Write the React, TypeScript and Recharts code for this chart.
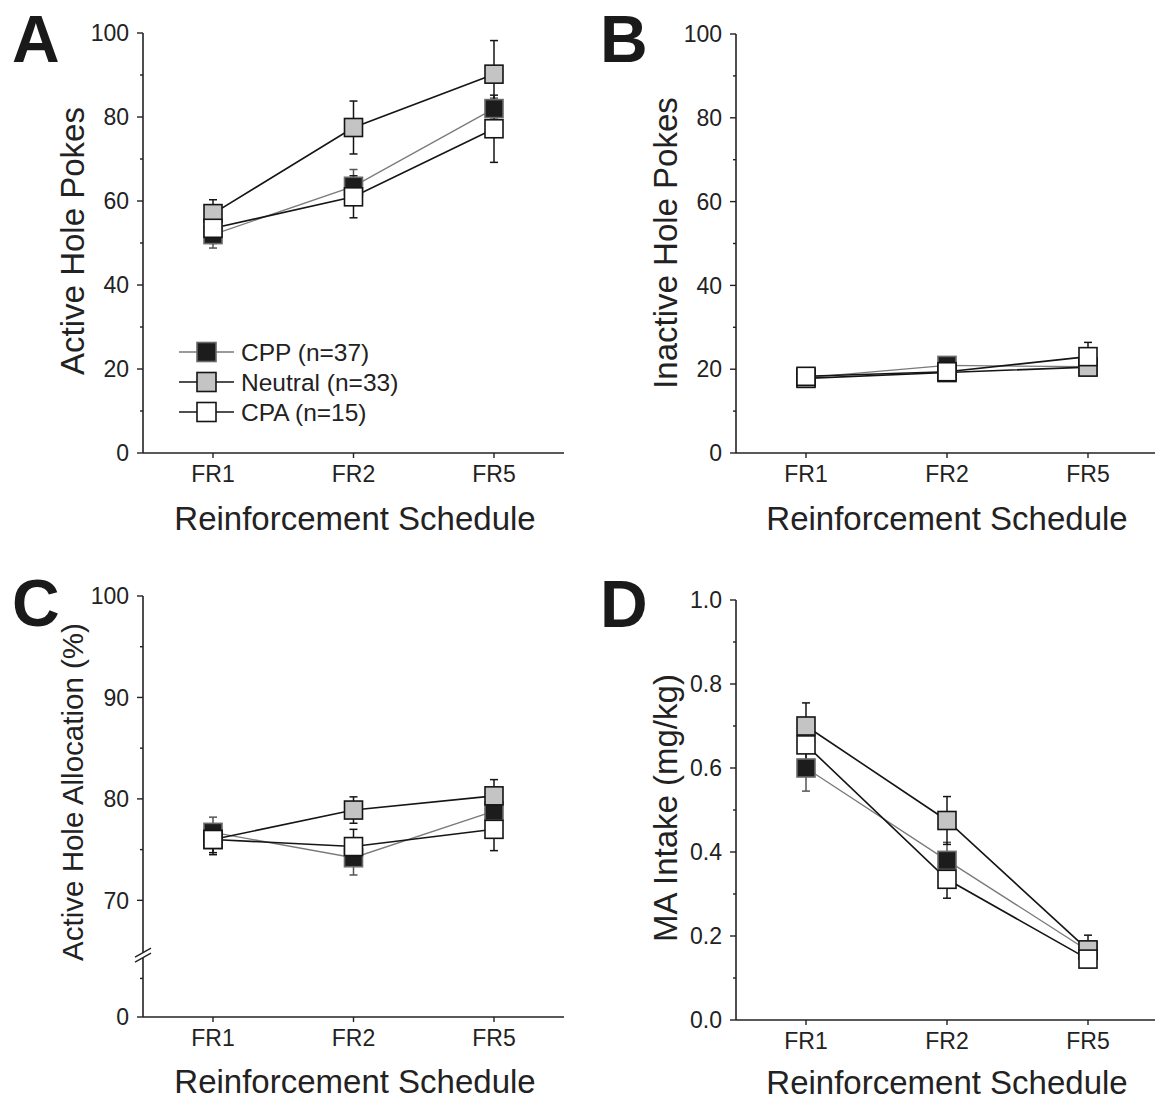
import React from 'react';
import { LineChart, Line, XAxis, YAxis, ErrorBar, Label } from 'recharts';

// ---------- data ----------
const categories = ['FR1', 'FR2', 'FR5'];
const groupNames = ['CPP (n=37)', 'Neutral (n=33)', 'CPA (n=15)'];

// Panel A: Active hole pokes
const activeCPP = [52, 63.5, 82];
const activeCPPErr = [3.2, 4, 2.5];
const activeNeutral = [57, 77.5, 90.2];
const activeNeutralErr = [3.3, 6.3, 8];
const activeCPA = [53.5, 61, 77.2];
const activeCPAErr = [3.6, 5, 8];

// Panel B: Inactive hole pokes
const inactiveCPP = [18.0, 20.9, 20.6];
const inactiveCPPErr = [1.0, 1.2, 1.0];
const inactiveNeutral = [17.8, 19.2, 20.5];
const inactiveNeutralErr = [1.0, 1.0, 1.0];
const inactiveCPA = [18.3, 19.4, 23.0];
const inactiveCPAErr = [1.1, 1.0, 3.4];

// Panel C: Active hole allocation (%)
const allocCPP = [76.7, 74.2, 78.8];
const allocCPPErr = [1.5, 1.7, 1.2];
const allocNeutral = [76.0, 78.9, 80.3];
const allocNeutralErr = [1.5, 1.3, 1.6];
const allocCPA = [76.0, 75.3, 77.0];
const allocCPAErr = [1.3, 1.7, 2.1];

// Panel D: MA intake (mg/kg)
const intakeCPP = [0.6, 0.38, 0.165];
const intakeCPPErr = [0.055, 0.043, 0.02];
const intakeNeutral = [0.7, 0.475, 0.167];
const intakeNeutralErr = [0.055, 0.057, 0.035];
const intakeCPA = [0.655, 0.335, 0.145];
const intakeCPAErr = [0.05, 0.045, 0.02];

// tick values
const pokeTicks = [0, 10, 20, 30, 40, 50, 60, 70, 80, 90, 100];
const pokeLabels = ['0', '', '20', '', '40', '', '60', '', '80', '', '100'];
// panel C axis is broken: bottom "0" sits below a break under 70
const allocTicks = [58.5, 62.3, 64.6, 70, 75, 80, 85, 90, 95, 100];
const allocLabels = ['0', '', 'break', '70', '', '80', '', '90', '', '100'];
const intakeTicks = [0, 0.1, 0.2, 0.3, 0.4, 0.5, 0.6, 0.7, 0.8, 0.9, 1.0];
const intakeLabels = ['0.0', '', '0.2', '', '0.4', '', '0.6', '', '0.8', '', '1.0'];

// ---------- style ----------
const FONT = '"Liberation Sans", Arial, Helvetica, sans-serif';
const INK = '#222';
const TICK_SIZE = 6;
const TICK_MARGIN = 8;
const BOX = 18;
const TICK_FONT = 23;
const TITLE_FONT = 33;
const LEGEND_FONT = 24.5;

const buildRows = (
  cpp: number[], cppErr: number[],
  neu: number[], neuErr: number[],
  cpa: number[], cpaErr: number[]
) =>
  categories.map((name, i) => ({
    name,
    cpp: cpp[i], cppErr: cppErr[i],
    neutral: neu[i], neutralErr: neuErr[i],
    cpa: cpa[i], cpaErr: cpaErr[i],
  }));

const seriesStyle = {
  cpp: { fill: '#1c1c1c', stroke: '#6a6a6a', line: '#7a7a7a', lineWidth: 1.3, err: '#555' },
  neutral: { fill: '#c4c4c4', stroke: '#151515', line: '#151515', lineWidth: 1.6, err: '#151515' },
  cpa: { fill: '#ffffff', stroke: '#151515', line: '#151515', lineWidth: 1.6, err: '#151515' },
};

const makeSquare = (fill: string, stroke: string) => (p: any) => {
  if (p.cx == null || p.cy == null) return <g key={`e-${p.index}`} />;
  return (
    <rect
      key={`sq-${p.dataKey}-${p.index}`}
      x={p.cx - BOX / 2}
      y={p.cy - BOX / 2}
      width={BOX}
      height={BOX}
      fill={fill}
      stroke={stroke}
      strokeWidth={1.6}
    />
  );
};

const makeYTick = (ticks: number[], labels: string[]) => (props: any) => {
  const { x, y, payload } = props;
  const ax = x + TICK_SIZE + TICK_MARGIN;
  const idx = ticks.findIndex((t) => Math.abs(t - payload.value) < 1e-6);
  const lab = idx >= 0 ? labels[idx] : '';
  if (lab === 'break') {
    return (
      <g>
        <polygon
          points={`${ax - 8},${y + 7} ${ax + 8},${y - 2} ${ax + 8},${y - 7} ${ax - 8},${y + 2}`}
          fill="#fff"
        />
        <line x1={ax - 8} y1={y + 7} x2={ax + 8} y2={y - 2} stroke={INK} strokeWidth={1.4} />
        <line x1={ax - 8} y1={y + 2} x2={ax + 8} y2={y - 7} stroke={INK} strokeWidth={1.4} />
      </g>
    );
  }
  if (!lab) {
    return <line x1={ax - 3} y1={y} x2={ax} y2={y} stroke={INK} strokeWidth={1.4} />;
  }
  return (
    <g>
      <line x1={ax - TICK_SIZE} y1={y} x2={ax} y2={y} stroke={INK} strokeWidth={1.4} />
      <text
        x={x}
        y={y}
        dy="0.36em"
        textAnchor="end"
        fontSize={TICK_FONT}
        fill={INK}
        fontFamily={FONT}
      >
        {lab}
      </text>
    </g>
  );
};

type PanelProps = {
  left: number;
  top: number;
  width: number;
  height: number;
  margin: { top: number; right: number; bottom: number; left: number };
  data: any[];
  domain: [number, number];
  ticks: number[];
  labels: string[];
  yTitle: string;
  yTitleFont: number;
  yTitlePos: [number, number];
  xTitlePos: [number, number];
};

const Panel = (p: PanelProps) => (
  <div style={{ position: 'absolute', left: p.left, top: p.top }}>
    <LineChart width={p.width} height={p.height} data={p.data} margin={p.margin}>
      <XAxis
        dataKey="name"
        type="category"
        interval={0}
        padding={{ left: 70, right: 70 }}
        height={90}
        tickSize={5}
        tickMargin={8}
        tick={{ fontSize: TICK_FONT, fill: INK, fontFamily: FONT }}
        axisLine={{ stroke: INK, strokeWidth: 1.6 }}
        tickLine={{ stroke: INK, strokeWidth: 1.4 }}
      >
        <Label
          content={() => (
            <text
              x={p.xTitlePos[0]}
              y={p.xTitlePos[1]}
              textAnchor="middle"
              fontSize={TITLE_FONT}
              fill={INK}
              fontFamily={FONT}
            >
              Reinforcement Schedule
            </text>
          )}
        />
      </XAxis>
      <YAxis
        type="number"
        domain={p.domain}
        ticks={p.ticks}
        interval={0}
        allowDataOverflow
        width={143}
        tickSize={TICK_SIZE}
        tickMargin={TICK_MARGIN}
        tickLine={false}
        axisLine={{ stroke: INK, strokeWidth: 1.6 }}
        tick={makeYTick(p.ticks, p.labels)}
      >
        <Label
          content={() => (
            <text
              x={p.yTitlePos[0]}
              y={p.yTitlePos[1]}
              transform={`rotate(-90 ${p.yTitlePos[0]} ${p.yTitlePos[1]})`}
              textAnchor="middle"
              fontSize={p.yTitleFont}
              fill={INK}
              fontFamily={FONT}
            >
              {p.yTitle}
            </text>
          )}
        />
      </YAxis>

      {/* connecting lines underneath all markers */}
      <Line dataKey="cpp" stroke={seriesStyle.cpp.line} strokeWidth={seriesStyle.cpp.lineWidth} dot={false} activeDot={false} isAnimationActive={false} legendType="none" />
      <Line dataKey="neutral" stroke={seriesStyle.neutral.line} strokeWidth={seriesStyle.neutral.lineWidth} dot={false} activeDot={false} isAnimationActive={false} legendType="none" />
      <Line dataKey="cpa" stroke={seriesStyle.cpa.line} strokeWidth={seriesStyle.cpa.lineWidth} dot={false} activeDot={false} isAnimationActive={false} legendType="none" />

      {/* markers with SEM error bars */}
      <Line dataKey="cpp" stroke="none" dot={makeSquare(seriesStyle.cpp.fill, seriesStyle.cpp.stroke)} activeDot={false} isAnimationActive={false} legendType="none">
        <ErrorBar dataKey="cppErr" width={4} stroke={seriesStyle.cpp.err} strokeWidth={1.5} direction="y" />
      </Line>
      <Line dataKey="neutral" stroke="none" dot={makeSquare(seriesStyle.neutral.fill, seriesStyle.neutral.stroke)} activeDot={false} isAnimationActive={false} legendType="none">
        <ErrorBar dataKey="neutralErr" width={4} stroke={seriesStyle.neutral.err} strokeWidth={1.5} direction="y" />
      </Line>
      <Line dataKey="cpa" stroke="none" dot={makeSquare(seriesStyle.cpa.fill, seriesStyle.cpa.stroke)} activeDot={false} isAnimationActive={false} legendType="none">
        <ErrorBar dataKey="cpaErr" width={4} stroke={seriesStyle.cpa.err} strokeWidth={1.5} direction="y" />
      </Line>
    </LineChart>
  </div>
);

const legendRows = [
  { name: groupNames[0], s: seriesStyle.cpp },
  { name: groupNames[1], s: seriesStyle.neutral },
  { name: groupNames[2], s: seriesStyle.cpa },
];

const Overlay = () => (
  <svg
    width={1155}
    height={1102}
    style={{ position: 'absolute', left: 0, top: 0, pointerEvents: 'none' }}
  >
    {[
      ['A', 12, 62],
      ['B', 600, 62],
      ['C', 12, 626],
      ['D', 600, 627],
    ].map(([t, x, y]) => (
      <text key={t as string} x={x as number} y={y as number} fontSize={66} fontWeight="bold" fill="#1a1a1a" fontFamily={FONT}>
        {t}
      </text>
    ))}
    {legendRows.map((r, i) => {
      const cy = 352 + i * 30;
      return (
        <g key={r.name}>
          <line x1={179} y1={cy} x2={234} y2={cy} stroke={r.s.line} strokeWidth={r.s.lineWidth} />
          <rect x={197} y={cy - 9.5} width={19} height={19} fill={r.s.fill} stroke={r.s.stroke} strokeWidth={1.6} />
          <text x={241} y={cy} dy="0.36em" fontSize={LEGEND_FONT} fill={INK} fontFamily={FONT}>
            {r.name}
          </text>
        </g>
      );
    })}
  </svg>
);

export default function App() {
  const dataA = buildRows(activeCPP, activeCPPErr, activeNeutral, activeNeutralErr, activeCPA, activeCPAErr);
  const dataB = buildRows(inactiveCPP, inactiveCPPErr, inactiveNeutral, inactiveNeutralErr, inactiveCPA, inactiveCPAErr);
  const dataC = buildRows(allocCPP, allocCPPErr, allocNeutral, allocNeutralErr, allocCPA, allocCPAErr);
  const dataD = buildRows(intakeCPP, intakeCPPErr, intakeNeutral, intakeNeutralErr, intakeCPA, intakeCPAErr);
  return (
    <div
      style={{
        position: 'absolute',
        left: 0,
        top: 0,
        width: 1155,
        height: 1102,
        overflow: 'hidden',
        background: '#fff',
        fontFamily: FONT,
      }}
    >
      <Panel
        left={0} top={0} width={578} height={550}
        margin={{ top: 33, right: 14, bottom: 7, left: 0 }}
        data={dataA} domain={[0, 100]} ticks={pokeTicks} labels={pokeLabels}
        yTitle="Active Hole Pokes" yTitleFont={TITLE_FONT} yTitlePos={[84, 241]} xTitlePos={[355, 530]}
      />
      <Panel
        left={593} top={0} width={570} height={550}
        margin={{ top: 34, right: 5, bottom: 7, left: 0 }}
        data={dataB} domain={[0, 100]} ticks={pokeTicks} labels={pokeLabels}
        yTitle="Inactive Hole Pokes" yTitleFont={TITLE_FONT} yTitlePos={[84, 243]} xTitlePos={[354, 530]}
      />
      <Panel
        left={0} top={563} width={578} height={550}
        margin={{ top: 33, right: 14, bottom: 6, left: 0 }}
        data={dataC} domain={[58.5, 100]} ticks={allocTicks} labels={allocLabels}
        yTitle="Active Hole Allocation (%)" yTitleFont={29.5} yTitlePos={[83, 229]} xTitlePos={[355, 530]}
      />
      <Panel
        left={593} top={567} width={570} height={550}
        margin={{ top: 33, right: 5, bottom: 7, left: 0 }}
        data={dataD} domain={[0, 1]} ticks={intakeTicks} labels={intakeLabels}
        yTitle="MA Intake (mg/kg)" yTitleFont={TITLE_FONT} yTitlePos={[84, 241]} xTitlePos={[354, 527]}
      />
      <Overlay />
    </div>
  );
}
